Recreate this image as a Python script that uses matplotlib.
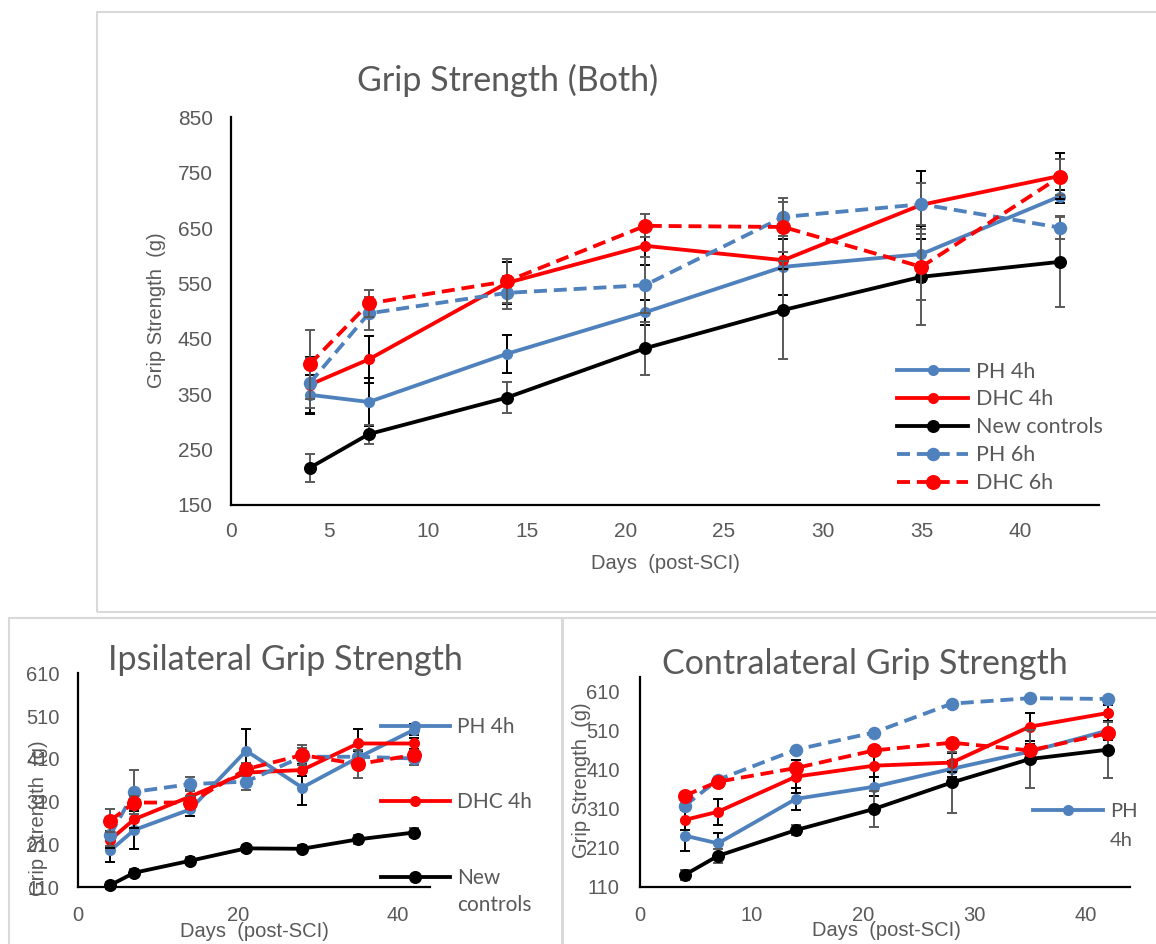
import matplotlib
matplotlib.use("Agg")
import matplotlib.pyplot as plt
from matplotlib.patches import Rectangle

W, H = 1156, 944
GREY = "#595959"
BLUE = "#4F81BD"
RED = "#FF0000"

days = [4, 7, 14, 21, 28, 35, 42]
names = ["PH 4h", "DHC 4h", "New controls", "PH 6h", "DHC 6h"]

# Grip strength (both)
both_ph4 = [349, 336, 423, 498, 580, 603, 707]
both_dhc4 = [367, 413, 551, 618, 592, 692, 744]
both_ctrl = [217, 278, 344, 433, 502, 562, 589]
both_ph6 = [370, 496, 533, 547, 670, 693, 651]
both_dhc6 = [404, 514, 554, 654, 652, 580, 742]
both_ph4_err = [35, 43, 34, 23, 50, 50, 12]
both_dhc4_err = [50, 42, 38, 35, 15, 61, 42]
both_ctrl_err = [25, 17, 28, 48, 88, 87, 81]
both_ph6_err = [45, 30, 30, 50, 35, 38, 20]
both_dhc6_err = [62, 25, 40, 21, 45, 60, 33]

# ipsilateral
ipsi_ph4 = [196, 244, 292, 429, 343, 413, 478]
ipsi_dhc4 = [221, 269, 322, 378, 384, 446, 446]
ipsi_ctrl = [115, 144, 172, 201, 200, 222, 238]
ipsi_ph6 = [232, 333, 351, 357, 415, 415, 411]
ipsi_dhc6 = [266, 308, 308, 386, 419, 398, 419]
ipsi_ph4_err = [27, 45, 16, 51, 40, 15, 13]
ipsi_dhc4_err = [20, 20, 15, 20, 15, 35, 12]
ipsi_ctrl_err = [8, 8, 8, 8, 8, 10, 10]
ipsi_ph6_err = [25, 51, 17, 20, 20, 15, 15]
ipsi_dhc6_err = [27, 15, 15, 15, 23, 33, 12]

# contralateral
contra_ph4 = [241, 221, 335, 366, 412, 456, 510]
contra_dhc4 = [281, 302, 392, 420, 428, 520, 555]
contra_ctrl = [140, 189, 255, 309, 377, 437, 461]
contra_ph6 = [317, 384, 461, 505, 579, 593, 591]
contra_dhc6 = [343, 379, 414, 459, 479, 459, 503]
contra_ph4_err = [39, 27, 28, 24, 20, 20, 23]
contra_dhc4_err = [25, 33, 43, 28, 25, 36, 20]
contra_ctrl_err = [12, 18, 12, 45, 77, 75, 72]

styles = [
    dict(color=BLUE, ls="-", ms=8.0, ecolor="black"),
    dict(color=RED, ls="-", ms=8.0, ecolor="black"),
    dict(color="black", ls="-", ms=9.4, ecolor=GREY),
    dict(color=BLUE, ls="--", ms=9.7, ecolor=GREY),
    dict(color=RED, ls="--", ms=10.8, ecolor=GREY),
]

fig = plt.figure(figsize=(W / 100, H / 100), dpi=100)


def px_axes(left, top, right, bottom):
    return fig.add_axes([left / W, 1 - bottom / H, (right - left) / W, (bottom - top) / H])


def fx(x):
    return x / W


def fy(y):
    return 1 - y / H


def frame(x0, y0, x1, y1):
    fig.add_artist(Rectangle((fx(x0), fy(y1)), fx(x1 - x0), (y1 - y0) / H,
                             transform=fig.transFigure, fill=False,
                             edgecolor="#D9D9D9", lw=1.5))


def panel(ax, values, errs, ylim, yticks, xticks, tick_size, ypad, xpad):
    lines = []
    for vals, err, st, name in zip(values, errs, styles, names):
        if err is not None:
            ax.errorbar(days, vals, yerr=err, fmt="none", ecolor=st["ecolor"],
                        elinewidth=1.4, capsize=3.6, capthick=1.4, clip_on=False)
        ln, = ax.plot(days, vals, color=st["color"], lw=2.75, marker="o",
                      ms=st["ms"], mew=0, label=name, clip_on=False)
        if st["ls"] == "--":
            ln.set_dashes((3.4, 1.8))
        lines.append(ln)
    ax.set_xlim(0, 44)
    ax.set_ylim(*ylim)
    ax.set_xticks(xticks)
    ax.set_yticks(yticks)
    for s in ["top", "right"]:
        ax.spines[s].set_visible(False)
    for s in ["left", "bottom"]:
        ax.spines[s].set_linewidth(1.6)
        ax.spines[s].set_color("black")
    ax.tick_params(axis="y", length=0, pad=ypad, labelsize=tick_size, labelcolor=GREY)
    ax.tick_params(axis="x", length=0, pad=xpad, labelsize=tick_size, labelcolor=GREY)
    for lab in ax.get_xticklabels() + ax.get_yticklabels():
        lab.set_family("Liberation Sans")
    ax.patch.set_alpha(0)
    return lines


frame(97, 12, 1170, 612)
frame(9, 618, 562, 960)
frame(563, 618, 1170, 960)

# top chart
ax1 = px_axes(230.7, 117.3, 1099, 505)
l1 = panel(ax1, [both_ph4, both_dhc4, both_ctrl, both_ph6, both_dhc6],
           [both_ph4_err, both_dhc4_err, both_ctrl_err, both_ph6_err, both_dhc6_err],
           (150, 850), range(150, 851, 100), range(0, 41, 5), 15, 13, 12.5)
fig.text(fx(507.5), fy(80), "Grip Strength (Both)", ha="center", va="center",
         fontsize=24.5, color=GREY, family="Lato")
fig.text(fx(156.7), fy(310), "Grip Strength  (g)", ha="center", va="center",
         rotation=90, fontsize=14.5, color=GREY, family="Liberation Sans")
fig.text(fx(665), fy(563.3), "Days  (post-SCI)", ha="center", va="center",
         fontsize=14.5, color=GREY, family="Liberation Sans")
leg = ax1.legend(handles=l1, loc="upper left", bbox_to_anchor=(fx(897.3), fy(361.5)),
                 bbox_transform=fig.transFigure, frameon=False, borderpad=0,
                 borderaxespad=0, handlelength=3.3, handletextpad=0.36,
                 labelspacing=0.37, prop=dict(family="Lato", size=15.5))
for t in leg.get_texts():
    t.set_color(GREY)

# ipsilateral
ax2 = px_axes(78.3, 673.3, 430, 887.3)
l2 = panel(ax2, [ipsi_ph4, ipsi_dhc4, ipsi_ctrl, ipsi_ph6, ipsi_dhc6],
           [ipsi_ph4_err, ipsi_dhc4_err, ipsi_ctrl_err, ipsi_ph6_err, ipsi_dhc6_err],
           (110, 610), range(110, 611, 100), [0, 20, 40], 14.5, 13.5, 13.5)
fig.text(fx(285), fy(660.5), "Ipsilateral Grip Strength", ha="center", va="center",
         fontsize=24.5, color=GREY, family="Lato")
fig.text(fx(38.3), fy(818), "Grip Strength  (g)", ha="center", va="center",
         rotation=90, fontsize=14.5, color=GREY, family="Liberation Sans")
fig.text(fx(254), fy(931.7), "Days  (post-SCI)", ha="center", va="center",
         fontsize=14.5, color=GREY, family="Liberation Sans")
leg2 = ax2.legend(handles=l2[:3], labels=["PH 4h", "DHC 4h", "New"], loc="upper left",
                  bbox_to_anchor=(fx(380.7), fy(717)), bbox_transform=fig.transFigure,
                  frameon=False, borderpad=0, borderaxespad=0, handlelength=3.33,
                  handletextpad=0.32, labelspacing=2.66, prop=dict(family="Lato", size=15))
for t in leg2.get_texts():
    t.set_color(GREY)
fig.text(fx(456.7), fy(905), "controls", ha="left", va="center",
         fontsize=15, color=GREY, family="Lato")

# contralateral
ax3 = px_axes(640, 676.7, 1130, 886.7)
l3 = panel(ax3, [contra_ph4, contra_dhc4, contra_ctrl, contra_ph6, contra_dhc6],
           [contra_ph4_err, contra_dhc4_err, contra_ctrl_err, None, None],
           (110, 648), range(110, 611, 100), range(0, 41, 10), 14.5, 14.5, 14)
fig.text(fx(865.3), fy(664), "Contralateral Grip Strength", ha="center", va="center",
         fontsize=24.5, color=GREY, family="Lato")
fig.text(fx(581.7), fy(780.5), "Grip Strength  (g)", ha="center", va="center",
         rotation=90, fontsize=14.5, color=GREY, family="Liberation Sans")
fig.text(fx(886), fy(930), "Days  (post-SCI)", ha="center", va="center",
         fontsize=14.5, color=GREY, family="Liberation Sans")
leg3 = ax3.legend(handles=l3[:1], labels=["PH"], loc="center left",
                  bbox_to_anchor=(fx(1032.7), fy(811.7)), bbox_transform=fig.transFigure,
                  frameon=False, borderpad=0, borderaxespad=0, handlelength=3.5,
                  handletextpad=0.33, prop=dict(family="Lato", size=14.5))
for t in leg3.get_texts():
    t.set_color(GREY)
fig.text(fx(1109.3), fy(840), "4h", ha="left", va="center",
         fontsize=14.5, color=GREY, family="Lato")

fig.savefig("out.png", dpi=100)
